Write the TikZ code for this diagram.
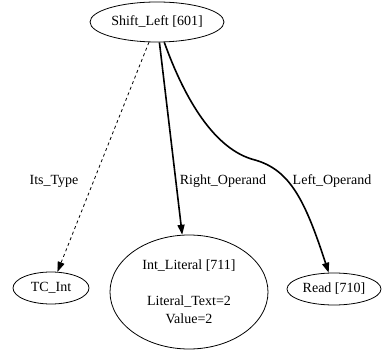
\documentclass[tikz,border=0pt]{standalone}
\usepackage{fontspec}
\setmainfont{Liberation Serif}
\usetikzlibrary{shapes.geometric,arrows.meta}
\begin{document}
\begin{tikzpicture}[x=1pt,y=-1pt,
  font=\fontsize{14}{18}\selectfont,
  nodebox/.style={draw,ellipse,inner sep=0pt,line width=0.8pt,align=center},
  boldedge/.style={line width=1.6pt,-{Triangle[length=10pt,width=7pt]}},
  typeedge/.style={line width=0.8pt,dashed,-{Triangle[length=10pt,width=7pt]}},
  edgelabel/.style={inner sep=0pt}]
\useasboundingbox (0,0) rectangle (382,352);
% operator node and its children
\node[nodebox,minimum width=134pt,minimum height=40pt] (sl) at (157,22) {Shift\_Left [601]};
\node[nodebox,minimum width=76pt,minimum height=32pt] (tc) at (51,288) {TC\_Int};
\node[nodebox,minimum width=158pt,minimum height=114pt] (il) at (189,292)
  {Int\_Literal [711]\\[18pt]Literal\_Text=2\\Value=2};
\node[nodebox,minimum width=94pt,minimum height=32pt] (rd) at (334,289) {Read [710]};
% edges
\draw[typeedge] (sl) -- (tc);
\draw[boldedge] (sl) -- (il);
\draw[boldedge] (sl) .. controls (185,100) and (215,150) .. (255,160)
  .. controls (290,170) and (305,200) .. (rd);
% edge labels
\node[edgelabel] (lt) at (54,181) {Its\_Type};
\node[edgelabel] (lr) at (223,181) {Right\_Operand};
\node[edgelabel] (ll) at (332,181) {Left\_Operand};
\end{tikzpicture}
\end{document}
